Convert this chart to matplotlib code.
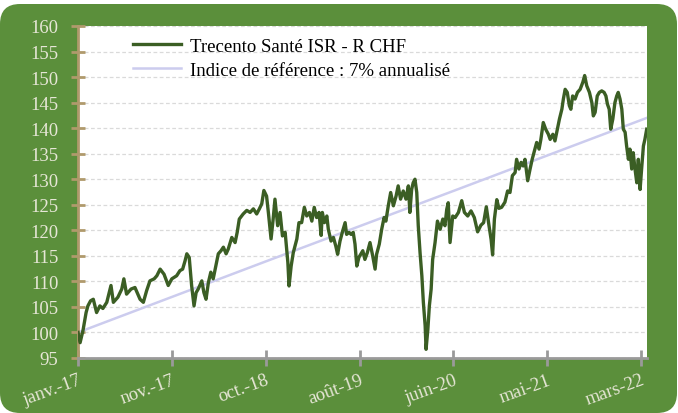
import matplotlib
matplotlib.use("Agg")
import matplotlib.pyplot as plt
from matplotlib.patches import FancyBboxPatch

plt.rcParams['font.family'] = ['Liberation Serif', 'DejaVu Serif']

# jours depuis le début (janv.-17) et valeur liquidative base 100
jours = [0, 7, 17, 27, 33, 42, 51, 62, 73, 83, 96, 110, 118, 133, 146, 153, 162, 177, 190, 207,
         218, 229, 240, 254, 263, 274, 287, 301, 313, 329, 340, 349, 357, 363, 371, 379, 387, 394, 401, 413,
         420, 427, 435, 443, 451, 460, 468, 477, 485, 494, 501, 513, 524, 531, 538, 551, 563, 574, 585, 596,
         605, 613, 620, 629, 635, 644, 651, 657, 666, 674, 682, 691, 700, 704, 711, 718, 730, 737, 746, 755,
         763, 772, 780, 788, 796, 804, 811, 815, 822, 830, 835, 844, 852, 860, 866, 874, 883, 891, 896, 904,
         911, 918, 924, 930, 937, 950, 957, 965, 974, 983, 991, 996, 1005, 1013, 1021, 1027, 1035, 1043, 1052, 1061,
         1068, 1076, 1085, 1094, 1102, 1107, 1113, 1118, 1124, 1130, 1135, 1141, 1147, 1152, 1158, 1161, 1167, 1172, 1178, 1183,
         1191, 1199, 1208, 1217, 1224, 1230, 1235, 1241, 1250, 1258, 1269, 1280, 1289, 1300, 1311, 1322, 1333, 1344, 1353, 1362,
         1371, 1378, 1383, 1389, 1397, 1404, 1413, 1424, 1433, 1441, 1449, 1458, 1463, 1471, 1478, 1485, 1491, 1500, 1508, 1515,
         1524, 1530, 1538, 1544, 1552, 1560, 1569, 1575, 1584, 1591, 1599, 1606, 1614, 1619, 1625, 1632, 1639, 1644, 1650, 1658,
         1666, 1675, 1684, 1690, 1697, 1706, 1714, 1719, 1725, 1732, 1739, 1747, 1755, 1761, 1766, 1772, 1777, 1784, 1791, 1797,
         1802, 1808, 1814, 1819, 1825, 1830, 1836, 1841, 1847, 1852, 1858, 1864, 1869, 1875, 1880, 1886, 1891, 1897]
fonds = [100, 98, 100.5, 103.9, 105.2, 106.2, 106.5, 103.9, 105.2, 104.7, 105.9, 109.2, 105.9, 106.9, 108.5, 110.5, 107.5, 108.5, 108.8, 106.5,
         105.9, 108.2, 110.1, 110.5, 111.1, 112.4, 111.4, 109.2, 110.5, 111.1, 112.1, 112.4, 114, 115.4, 114.7, 109.2, 105.2, 107.8, 108.5, 110.1,
         107.8, 106.5, 109.8, 111.8, 110.5, 113.1, 115.4, 116, 116.7, 115.4, 116.3, 118.6, 117.6, 119.6, 122.2, 123.2, 123.9, 123.5, 124.2, 123.2,
         124.2, 125.2, 127.8, 126.7, 123.5, 118.3, 122.2, 126.1, 120.9, 123.5, 118.9, 119.6, 113.7, 109.1, 113, 115.6, 118.3, 121.5, 121.5, 124.5,
         122.8, 123.5, 121.8, 124.5, 122.5, 123.5, 119, 123.5, 121.5, 122.8, 120.2, 117.9, 118.6, 116.9, 115.3, 117.9, 119.9, 121.5, 119.2, 119.6,
         119.2, 119.6, 117.3, 113, 114.7, 116, 114.3, 115.6, 117.6, 115, 112.4, 115.3, 117.3, 120.2, 122.5, 121.8, 124.8, 127.4, 124.8, 126.7,
         128.7, 126.1, 127.7, 126.1, 128.7, 123.5, 128, 129.3, 130, 127.4, 120.9, 115.6, 111.1, 105.9, 101.3, 96.7, 100.6, 105.2, 108.5, 114.3,
         117.6, 121.8, 120.2, 122.2, 120.9, 124.1, 125.4, 117.6, 122.8, 122.5, 123.5, 125.8, 123.5, 122.8, 123.8, 122.5, 119.7, 121, 121.5, 124.6,
         120.9, 118.2, 115.2, 122.2, 126, 124.3, 124.5, 125.5, 127.7, 127.4, 130.7, 131.3, 133.9, 132, 133.3, 132.6, 133.9, 129.7, 132, 133.9,
         135.9, 137.2, 135.9, 137.8, 141.1, 139.8, 138.8, 137.8, 138.8, 137.5, 139.8, 141.8, 143.7, 145.7, 147.6, 147, 144.4, 143.7, 146.3, 145.7,
         147, 147.6, 149, 150.3, 148.3, 147, 145, 142.4, 143.1, 146.3, 147, 147.3, 147, 146.3, 144.7, 143.7, 139.8, 141.8, 145, 146.3,
         147, 145.7, 143.7, 139.8, 139.2, 136.5, 133.9, 135.9, 132, 135.2, 132, 129.3, 133.9, 128, 132, 136.5, 137.8, 139.8]

ref_jours = [0, 626, 1252, 1897]
indice = [100, 113.9, 127.7, 142]

tick_jours = [0, 313, 626, 939, 1252, 1565, 1878]
tick_labels = ["janv.-17", "nov.-17", "oct.-18", "août-19", "juin-20", "mai-21", "mars-22"]

vert = "#5b8f3b"
clair = "#e6e6d6"

fig = plt.figure(figsize=(6.78, 4.14), dpi=100)
fig.patch.set_facecolor("white")

# fond vert aux coins arrondis
fond = fig.add_axes([0, 0, 1, 1], zorder=-1)
fond.set_xlim(0, 678)
fond.set_ylim(414, 0)
fond.axis("off")
fond.add_patch(FancyBboxPatch((0, 5), 677, 409, boxstyle="round,pad=0,rounding_size=20",
                              facecolor=vert, edgecolor="none"))

ax = fig.add_axes([78 / 678, 1 - 359 / 414, (647 - 78) / 678, (359 - 27) / 414])
ax.set_facecolor("white")

ax.plot(jours, fonds, color="#3b5e24", lw=2.4, label="Trecento Santé ISR - R CHF", zorder=3)
ax.plot(ref_jours, indice, color="#ccccee", lw=1.8, label="Indice de référence : 7% annualisé", zorder=2)

ax.set_ylim(95, 160)
ax.set_yticks(range(95, 161, 5))
ax.set_xlim(0, 1898)
ax.set_xticks(tick_jours)
ax.set_xticklabels(tick_labels, rotation=20, ha="right", rotation_mode="anchor")

ax.grid(axis="y", color="#dadada", ls=(0, (3, 2)), lw=0.9)
ax.set_axisbelow(True)
for s in ["top", "right"]:
    ax.spines[s].set_visible(False)
ax.spines["left"].set_color("#b09a6c")
ax.spines["left"].set_linewidth(2)
ax.spines["bottom"].set_color("#9a9a9a")
ax.spines["bottom"].set_linewidth(2)
ax.tick_params(axis="y", direction="inout", colors="#b09a6c", labelcolor=clair, labelsize=13.5,
               length=10, width=2, pad=9)
ax.tick_params(axis="x", direction="inout", colors="#9a9a9a", labelcolor=clair, labelsize=13.5,
               length=11, width=2, pad=4)

leg = ax.legend(loc="upper left", bbox_to_anchor=(0.067, 1.015), frameon=False, fontsize=13.5,
                handlelength=2.55, handletextpad=0.5, labelspacing=0.35)

fig.savefig("out.png", dpi=100, facecolor="white")
